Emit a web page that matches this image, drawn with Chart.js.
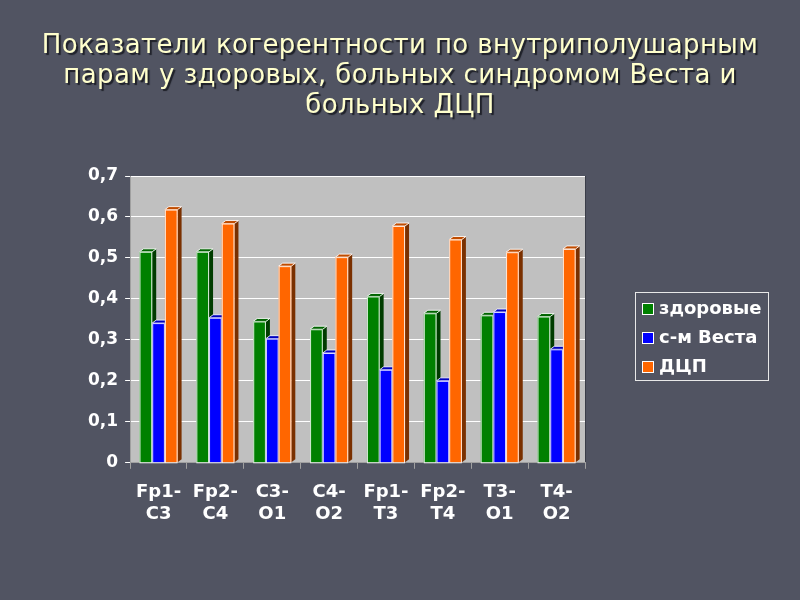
<!DOCTYPE html>
<html>
<head>
<meta charset="utf-8">
<script src="https://cdn.jsdelivr.net/npm/chart.js@4.4.0/dist/chart.umd.min.js"></script>
<style>
  html, body { margin: 0; padding: 0; background: #515462; }
  #wrap { width: 800px; height: 600px; position: relative; }
  #title {
    position: absolute; left: 0; top: 29px; width: 800px; margin: 0;
    text-align: center; color: #ffffcc;
    font: normal 26px/30px "DejaVu Sans", sans-serif;
    letter-spacing: 0.4px;
    text-shadow: 2px 2px 1px #1e2028;
  }
  canvas { position: absolute; left: 0; top: 0; }
</style>
</head>
<body>
<div id="wrap">
  <canvas id="coherenceChart" width="800" height="600"></canvas>
  <h1 id="title">Показатели когерентности по внутриполушарным<br>парам у здоровых, больных синдромом Веста и<br>больных ДЦП</h1>
</div>
<script>
// electrode pairs
const pairs = [['Fp1-', 'C3'], ['Fp2-', 'C4'], ['C3-', 'O1'], ['C4-', 'O2'],
               ['Fp1-', 'T3'], ['Fp2-', 'T4'], ['T3-', 'O1'], ['T4-', 'O2']];
const healthy = [0.515, 0.515, 0.345, 0.326, 0.406, 0.365, 0.360, 0.357];
const west    = [0.341, 0.354, 0.303, 0.268, 0.227, 0.200, 0.368, 0.277];
const cp      = [0.618, 0.584, 0.480, 0.502, 0.578, 0.545, 0.514, 0.522];
const yTicks  = ['0', '0,1', '0,2', '0,3', '0,4', '0,5', '0,6', '0,7'];

const seriesNames = ['здоровые', 'с-м Веста', 'ДЦП'];
const fronts = ['#008000', '#0000ff', '#ff6600'];   // front faces
const sides  = ['#003c00', '#000080', '#7a3000'];   // side faces (darker)
const tops   = ['#006400', '#0000c0', '#c04c00'];

// plot wall background
const wallPlugin = {
  id: 'wall',
  beforeDraw(chart) {
    const { ctx, chartArea: a } = chart;
    ctx.save();
    ctx.fillStyle = '#c0c0c0';
    ctx.fillRect(a.left, a.top, a.right - a.left, a.bottom - a.top);
    ctx.strokeStyle = '#3a3d48';
    ctx.beginPath();
    ctx.moveTo(a.right + 0.5, a.top);
    ctx.lineTo(a.right + 0.5, a.bottom);
    ctx.stroke();
    ctx.restore();
  }
};

// pseudo-3D bars, drawn category by category so neighbours overlap like the original
const bars3d = {
  id: 'bars3d',
  beforeDatasetsDraw(chart) {
    const ctx = chart.ctx;
    const dx = 4, dy = 3;
    const metas = chart.data.datasets.map((d, i) => chart.getDatasetMeta(i));
    ctx.save();
    for (let j = 0; j < pairs.length; j++) {
      metas.forEach((meta, i) => {
        const b = meta.data[j];
        const l = b.x - b.width / 2, r = b.x + b.width / 2;
        const t = b.y, base = b.base;
        // side
        ctx.fillStyle = sides[i];
        ctx.beginPath();
        ctx.moveTo(r, t); ctx.lineTo(r + dx, t - dy);
        ctx.lineTo(r + dx, base - dy); ctx.lineTo(r, base);
        ctx.closePath(); ctx.fill();
        // top
        ctx.fillStyle = tops[i];
        ctx.beginPath();
        ctx.moveTo(l, t); ctx.lineTo(l + dx, t - dy);
        ctx.lineTo(r + dx, t - dy); ctx.lineTo(r, t);
        ctx.closePath(); ctx.fill();
        ctx.strokeStyle = 'rgba(255,255,255,0.85)';
        ctx.lineWidth = 1;
        ctx.stroke();
        // front
        ctx.fillStyle = fronts[i];
        ctx.fillRect(l, t, r - l, base - t);
        ctx.strokeRect(l + 0.5, t + 0.5, r - l - 1, base - t);
      });
    }
    ctx.restore();
    return false;
  }
};

// boxed legend at the right, like the slide
const boxLegend = {
  id: 'boxLegend',
  afterDraw(chart) {
    const ctx = chart.ctx;
    const x = 635, y = 292, w = 133, h = 88;
    ctx.save();
    ctx.strokeStyle = '#e8e8e8';
    ctx.lineWidth = 1;
    ctx.strokeRect(x + 0.5, y + 0.5, w, h);
    ctx.font = 'bold 18px "DejaVu Sans"';
    ctx.textBaseline = 'middle';
    seriesNames.forEach((name, i) => {
      const cy = y + 17 + i * 29;
      ctx.fillStyle = fronts[i];
      ctx.fillRect(x + 7, cy - 6, 12, 12);
      ctx.strokeStyle = '#ffffff';
      ctx.strokeRect(x + 7.5, cy - 5.5, 11, 11);
      ctx.fillStyle = '#ffffff';
      ctx.fillText(name, x + 24, cy);
    });
    ctx.restore();
  }
};

new Chart(document.getElementById('coherenceChart'), {
  type: 'bar',
  data: {
    labels: pairs,
    datasets: [
      { label: seriesNames[0], data: healthy, backgroundColor: fronts[0] },
      { label: seriesNames[1], data: west, backgroundColor: fronts[1] },
      { label: seriesNames[2], data: cp, backgroundColor: fronts[2] }
    ]
  },
  options: {
    responsive: false,
    animation: false,
    datasets: { bar: { categoryPercentage: 0.67, barPercentage: 1.0 } },
    layout: { padding: { left: 81, right: 215, top: 176, bottom: 62 } },
    plugins: {
      legend: { display: false },
      tooltip: { enabled: false }
    },
    scales: {
      x: {
        grid: { drawOnChartArea: false, color: '#a0a0a0', tickLength: 6 },
        border: { color: '#a0a0a0' },
        ticks: { color: '#ffffff', font: { family: '"DejaVu Sans"', size: 18, weight: 'bold', lineHeight: 1.2 }, padding: 13 }
      },
      y: {
        min: 0, max: 0.7,
        grid: { color: '#ffffff', tickLength: 5 },
        border: { color: '#a0a0a0' },
        ticks: {
          stepSize: 0.1,
          color: '#ffffff',
          font: { family: '"DejaVu Sans"', size: 17, weight: 'bold' },
          padding: 7,
          callback: (v, i) => yTicks[i]
        }
      }
    }
  },
  plugins: [wallPlugin, bars3d, boxLegend]
});
</script>
</body>
</html>
